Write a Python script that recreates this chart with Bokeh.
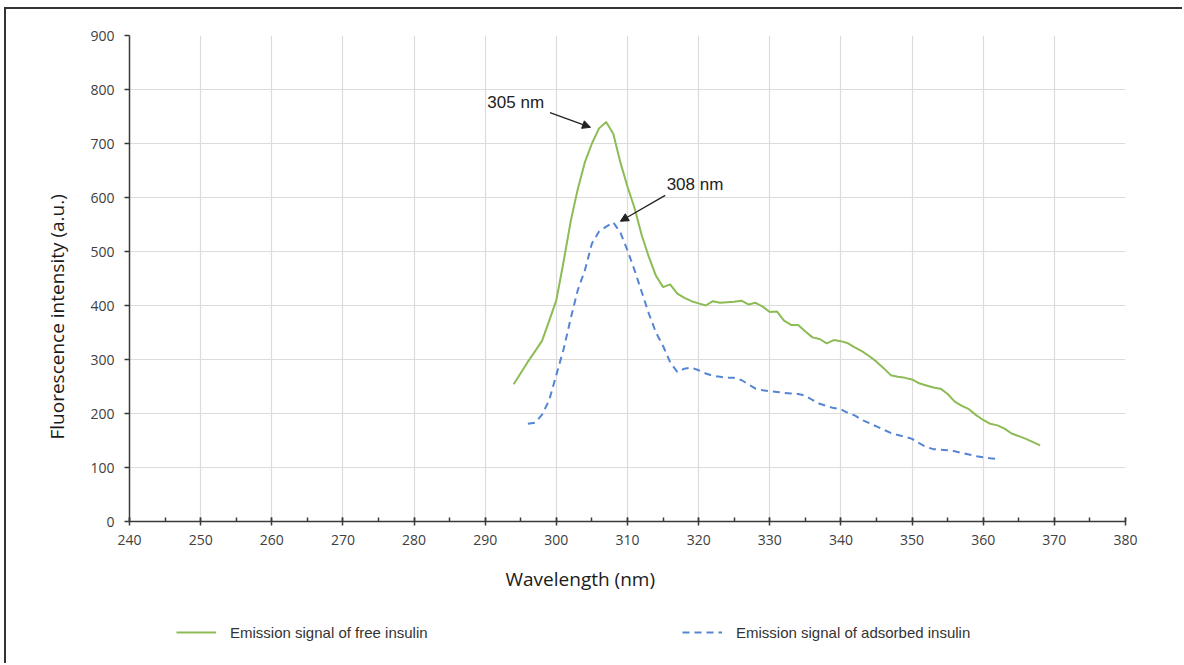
from bokeh.plotting import figure
from bokeh.layouts import column
from bokeh.models import (Range1d, SingleIntervalTicker, Label, Arrow, NormalHead,
                          Legend, LegendItem, Title)
from bokeh.embed import file_html
from bokeh.resources import INLINE

# ---- data -------------------------------------------------------------
wl_free = [294, 295, 296, 297, 298, 299, 300, 301, 302, 303, 304, 305, 306, 307, 308,
           309, 310, 311, 312, 313, 314, 315, 316, 317, 318, 319, 320, 321, 322, 323,
           324, 325, 326, 327, 328, 329, 330, 331, 332, 333, 334, 335, 336, 337, 338,
           339, 340, 341, 342, 343, 344, 345, 346, 347, 348, 349, 350, 351, 352, 353,
           354, 355, 356, 357, 358, 359, 360, 361, 362, 363, 364, 365, 366, 367, 368]
int_free = [254, 275, 296, 315, 335, 372, 410, 480, 555, 615, 665, 700, 728, 740, 718,
            665, 620, 580, 530, 490, 455, 434, 439, 422, 414, 408, 404, 400, 408, 405,
            406, 407, 409, 402, 405, 398, 388, 389, 372, 364, 364, 352, 341, 338, 330,
            336, 334, 330, 322, 315, 306, 296, 284, 271, 268, 266, 263, 256, 252, 248,
            246, 236, 222, 214, 208, 197, 188, 181, 178, 172, 163, 158, 153, 147, 141]

wl_ads = [296, 297, 298, 299, 300, 301, 302, 303, 304, 305, 306, 307, 308, 309, 310,
          311, 312, 313, 314, 315, 316, 317, 318, 319, 320, 321, 322, 323, 324, 325,
          326, 327, 328, 329, 330, 331, 332, 333, 334, 335, 336, 337, 338, 339, 340,
          341, 342, 343, 344, 345, 346, 347, 348, 349, 350, 351, 352, 353, 354, 355,
          356, 357, 358, 359, 360, 361, 362]
int_ads = [181, 183, 198, 225, 272, 318, 375, 428, 465, 515, 537, 546, 554, 535, 502,
           465, 425, 385, 350, 325, 295, 277, 283, 285, 280, 274, 270, 268, 266, 266,
           262, 254, 246, 243, 241, 240, 238, 237, 236, 233, 225, 218, 214, 210, 208,
           201, 196, 188, 182, 176, 170, 164, 160, 157, 153, 145, 138, 134, 133, 132,
           130, 127, 124, 121, 119, 117, 116]

series_names = ["Emission signal of free insulin", "Emission signal of adsorbed insulin"]
peak_labels = ["305 nm", "308 nm"]
x_title = "Wavelength (nm)"
y_title = "Fluorescence intensity (a.u.)"

# ---- styles -----------------------------------------------------------
GREEN = "#8dbb55"
BLUE = "#5585d2"
AXIS_FONT = "Open Sans"
TXT_FONT = "Liberation Sans"
DASH = "7 5"

p = figure(width=1176, height=600, output_backend="svg", toolbar_location=None,
           x_range=Range1d(240, 380), y_range=Range1d(0, 900),
           frame_width=996, frame_height=486,
           min_border_left=123, min_border_right=57, min_border_top=26,
           min_border_bottom=88)
p.outline_line_color = None
p.background_fill_color = "white"

p.xaxis.ticker = SingleIntervalTicker(interval=10, num_minor_ticks=2)
p.yaxis.ticker = SingleIntervalTicker(interval=100, num_minor_ticks=0)
for ax in (p.xaxis, p.yaxis):
    ax.axis_line_color = "#3a3a3a"
    ax.axis_line_width = 1.5
    ax.major_tick_line_color = "#3a3a3a"
    ax.major_tick_line_width = 1.5
    ax.minor_tick_line_color = "#3a3a3a"
    ax.minor_tick_line_width = 1.5
    ax.major_label_text_font = AXIS_FONT
    ax.major_label_text_font_size = "14px"
    ax.major_label_text_color = "#404040"
p.xaxis.major_tick_in = 4
p.xaxis.major_tick_out = 4
p.xaxis.minor_tick_in = 4
p.xaxis.minor_tick_out = 0
p.xaxis.major_label_standoff = 9
p.yaxis.major_tick_in = 0
p.yaxis.major_tick_out = 5
p.yaxis.minor_tick_in = 0
p.yaxis.minor_tick_out = 0
p.yaxis.major_label_standoff = 10

p.xgrid.grid_line_color = "#dcdcdc"
p.ygrid.grid_line_color = "#dcdcdc"
p.xgrid.grid_line_width = 1.2
p.ygrid.grid_line_width = 1.2

p.line(wl_free, int_free, line_color=GREEN, line_width=2)
p.line(wl_ads, int_ads, line_color=BLUE, line_width=2, line_dash=DASH)

# axis titles (off-centre in the reference)
p.add_layout(Title(text=x_title, align="left", offset=376, standoff=32,
                   text_font=AXIS_FONT, text_font_size="19px",
                   text_font_style="normal", text_color="#1a1a1a"), "below")
p.add_layout(Title(text=y_title, align="left", offset=82, standoff=36,
                   text_font=AXIS_FONT, text_font_size="19px",
                   text_font_style="normal", text_color="#1a1a1a"), "left")

# peak annotations
p.add_layout(Label(x=290.3, y=776, text=peak_labels[0], text_font=TXT_FONT,
                   text_font_size="17px", text_color="#222222",
                   text_align="left", text_baseline="middle"))
p.add_layout(Arrow(x_start=299.1, y_start=757, x_end=304.8, y_end=730,
                   line_color="#222222", line_width=1.3,
                   end=NormalHead(size=8, fill_color="#222222", line_color="#222222")))
p.add_layout(Label(x=315.5, y=624, text=peak_labels[1], text_font=TXT_FONT,
                   text_font_size="17px", text_color="#222222",
                   text_align="left", text_baseline="middle"))
p.add_layout(Arrow(x_start=315.3, y_start=604, x_end=309.0, y_end=556,
                   line_color="#222222", line_width=1.3,
                   end=NormalHead(size=8, fill_color="#222222", line_color="#222222")))

# ---- legend strip below the chart ------------------------------------
q = figure(width=1176, height=54, output_backend="svg", toolbar_location=None,
           x_axis_type=None, y_axis_type=None, min_border=0,
           x_range=Range1d(0, 1), y_range=Range1d(0, 1))
q.outline_line_color = None
q.xgrid.visible = False
q.ygrid.visible = False
# same series, outside this strip's ranges: only their legend swatches show
k_free = q.line(wl_free, int_free, line_color=GREEN, line_width=2)
k_ads = q.line(wl_ads, int_ads, line_color=BLUE, line_width=2, line_dash=DASH)
legend = Legend(items=[LegendItem(label=series_names[0], renderers=[k_free]),
                       LegendItem(label=series_names[1], renderers=[k_ads])],
                location=(47, 21), orientation="horizontal", padding=0, margin=0,
                spacing=0, glyph_width=40, glyph_height=20, label_height=20,
                label_width=452, label_standoff=14,
                label_text_font=TXT_FONT, label_text_font_size="15px",
                label_text_color="#333333", border_line_alpha=0,
                background_fill_alpha=0)
q.add_layout(legend)

page = column(p, q, spacing=0,
              styles={"border-top": "2px solid #333333", "border-left": "2px solid #333333",
                      "margin-left": "4px", "margin-top": "7px"})

open("out.html", "w").write(file_html(page, INLINE))
